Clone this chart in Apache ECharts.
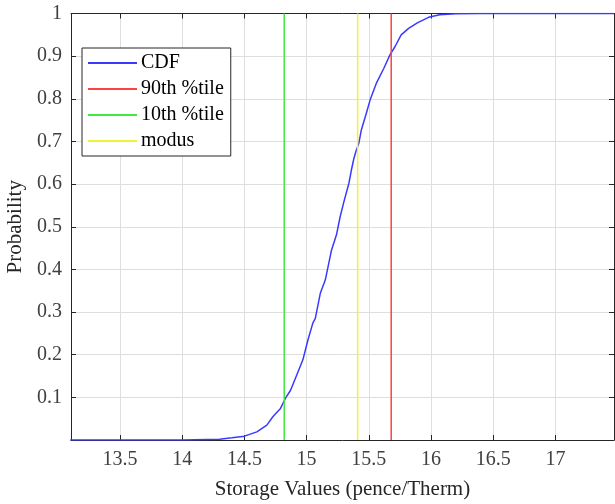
<!DOCTYPE html>
<html>
<head>
<meta charset="utf-8">
<script src="https://cdn.jsdelivr.net/npm/echarts@6/dist/echarts.min.js"></script>
<style>
  html, body { margin: 0; padding: 0; background: #fff; }
  #chart { width: 615px; height: 504px; }
</style>
</head>
<body>
<div id="chart"></div>
<script>
// CDF
const cdfX = [13.1, 14.0, 14.3, 14.4, 14.5, 14.6, 14.68, 14.73, 14.79, 14.83, 14.87, 14.92, 14.97, 15.01, 15.05, 15.07, 15.11, 15.15, 15.2, 15.24, 15.27, 15.3, 15.34, 15.36, 15.38, 15.4, 15.42, 15.44, 15.48, 15.51, 15.56, 15.62, 15.67, 15.71, 15.76, 15.82, 15.89, 15.98, 16.07, 16.2, 16.4, 17.47]
const cdfY = [0, 0, 0.002, 0.005, 0.009, 0.019, 0.035, 0.055, 0.074, 0.098, 0.116, 0.152, 0.188, 0.234, 0.274, 0.285, 0.344, 0.375, 0.445, 0.481, 0.524, 0.559, 0.602, 0.633, 0.66, 0.68, 0.696, 0.727, 0.766, 0.797, 0.836, 0.871, 0.903, 0.922, 0.95, 0.965, 0.978, 0.991, 0.997, 0.9995, 1, 1]

const p90 = 15.68
const p10 = 14.82
const modus = 15.41

const xTicks = [13.5, 14, 14.5, 15, 15.5, 16, 16.5, 17]
const xMin = 13.106
const xMax = 17.471

const font = "'Liberation Serif', 'DejaVu Serif', serif"
const axisColor = "#262626"
const gridColor = "#dedede"

const chart = echarts.init(document.getElementById("chart"))

const vline = (x) => [[x, 0], [x, 1]]

chart.setOption({
  animation: false,
  grid: { left: 71, right: 1, top: 13.5, bottom: 64, outerBoundsMode: "none", containLabel: false },
  legend: {
    orient: "vertical",
    left: 82,
    top: 48,
    padding: [5, 7, 5, 5],
    itemWidth: 49,
    itemHeight: 14,
    itemGap: 6,
    backgroundColor: "#fff",
    borderColor: "#262626",
    borderWidth: 1,
    borderRadius: 0,
    itemStyle: { opacity: 0 },
    textStyle: { fontFamily: font, fontSize: 20, color: "#000", padding: [0, 0, 0, -1] },
    data: ["CDF", "90th %tile", "10th %tile", "modus"],
  },
  xAxis: [
    {
      type: "value",
      min: xMin,
      max: xMax,
      name: "Storage Values (pence/Therm)",
      nameLocation: "middle",
      nameGap: 39,
      nameTextStyle: { fontFamily: font, fontSize: 21, color: "#262626" },
      axisLine: { onZero: false, lineStyle: { color: axisColor, width: 1 } },
      axisTick: { inside: true, length: 5, customValues: xTicks, lineStyle: { color: axisColor } },
      axisLabel: { customValues: xTicks, fontFamily: font, fontSize: 20, color: "#404040", margin: 10 },
      splitLine: { show: true, lineStyle: { color: gridColor, width: 1 } },
    },
    {
      type: "value",
      position: "top",
      min: xMin,
      max: xMax,
      axisLine: { show: true, onZero: false, lineStyle: { color: axisColor, width: 1 } },
      axisTick: { show: true, inside: true, length: 5, customValues: xTicks, lineStyle: { color: axisColor } },
      axisLabel: { show: false },
      splitLine: { show: false },
    },
  ],
  yAxis: [
    {
      type: "value",
      min: 0,
      max: 1,
      interval: 0.1,
      name: "Probability",
      nameLocation: "middle",
      nameGap: 42,
      nameTextStyle: { fontFamily: font, fontSize: 21, color: "#262626" },
      axisLine: { show: true, onZero: false, lineStyle: { color: axisColor, width: 1 } },
      axisTick: { show: true, inside: true, length: 5, lineStyle: { color: axisColor } },
      axisLabel: {
        fontFamily: font,
        fontSize: 20,
        color: "#404040",
        margin: 9,
        formatter: (v) => (v === 0 ? "" : String(Math.round(v * 10) / 10)),
      },
      splitLine: { show: true, lineStyle: { color: gridColor, width: 1 } },
    },
    {
      type: "value",
      position: "right",
      min: 0,
      max: 1,
      interval: 0.1,
      axisLine: { show: true, onZero: false, lineStyle: { color: axisColor, width: 1 } },
      axisTick: { show: true, inside: true, length: 5, lineStyle: { color: axisColor } },
      axisLabel: { show: false },
      splitLine: { show: false },
    },
  ],
  series: [
    {
      name: "CDF",
      type: "line",
      symbol: "none",
      lineStyle: { color: "#3a3aff", width: 1.5 },
      itemStyle: { color: "#3a3aff" },
      data: cdfX.map((x, i) => [x, cdfY[i]]),
      z: 3,
    },
    {
      name: "90th %tile",
      type: "line",
      symbol: "none",
      lineStyle: { color: "#ff4040", width: 1.5 },
      itemStyle: { color: "#ff4040" },
      data: vline(p90),
    },
    {
      name: "10th %tile",
      type: "line",
      symbol: "none",
      lineStyle: { color: "#40e840", width: 1.5 },
      itemStyle: { color: "#40e840" },
      data: vline(p10),
    },
    {
      name: "modus",
      type: "line",
      symbol: "none",
      lineStyle: { color: "#f2f235", width: 1.5 },
      itemStyle: { color: "#f2f235" },
      data: vline(modus),
    },
  ],
})

window.addEventListener("resize", () => chart.resize())
</script>
</body>
</html>
